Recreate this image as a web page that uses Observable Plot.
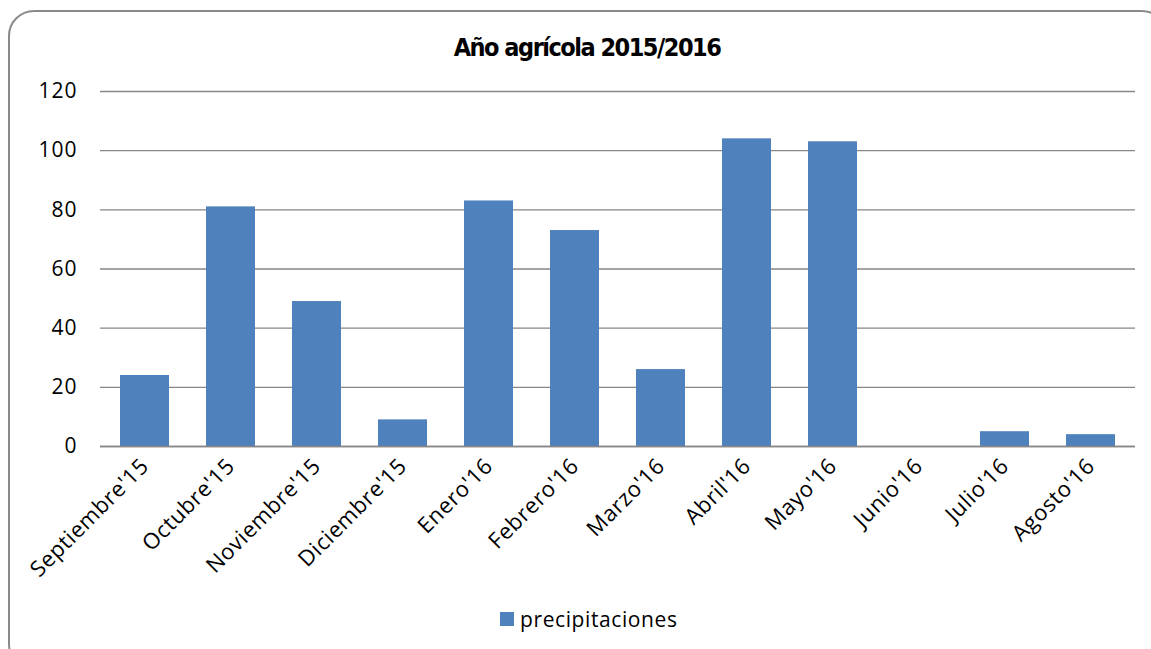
<!DOCTYPE html>
<html>
<head>
<meta charset="utf-8">
<script src="https://cdn.jsdelivr.net/npm/d3@7"></script>
<script src="https://cdn.jsdelivr.net/npm/@observablehq/plot@0.6"></script>
<style>
  html, body { margin: 0; padding: 0; background: #fff; }
  #wrap { position: relative; width: 1151px; height: 649px; overflow: hidden; background: #fff; }
  #frame { position: absolute; left: 8px; top: 10px; width: 1160px; height: 660px; border: 2px solid #8a8a8a; border-radius: 26px; box-sizing: border-box; }
  #title { position: absolute; left: 0; width: 1174px; top: 33px; line-height: 29px; text-align: center; font-family: "DejaVu Sans Condensed", sans-serif; font-weight: bold; font-size: 25px; letter-spacing: -1.5px; color: #000; }
  #legend { position: absolute; left: 500px; top: 605px; font-family: "Open Sans", sans-serif; font-size: 21px; letter-spacing: 0.6px; color: #000; display: flex; align-items: center; }
  #legend .sw { width: 14px; height: 14px; background: #4F81BD; margin-right: 6px; }
  #chart { position: absolute; left: 0; top: 0; }
  #chart svg g[aria-label="x-axis tick label"] text { letter-spacing: 0.6px; }
  #chart svg g[aria-label="y-axis tick label"] text { letter-spacing: 1px; }
</style>
</head>
<body>
<div id="wrap">
  <div id="frame"></div>
  <div id="chart"></div>
  <div id="title">Año agrícola 2015/2016</div>
  <div id="legend"><div class="sw"></div><span>precipitaciones</span></div>
</div>
<script>
const months = ["Septiembre'15","Octubre'15","Noviembre'15","Diciembre'15","Enero'16","Febrero'16","Marzo'16","Abril'16","Mayo'16","Junio'16","Julio'16","Agosto'16"];
const precipitaciones = [24, 81, 49, 9, 83, 73, 26, 104, 103, 0, 5, 4];
const yTicks = [0, 20, 40, 60, 80, 100, 120];

const data = months.map((m, i) => ({month: m, value: precipitaciones[i]}));

const chart = Plot.plot({
  width: 1151,
  height: 649,
  marginTop: 91,
  marginBottom: 203,
  marginLeft: 100,
  marginRight: 16,
  style: {fontFamily: "'Open Sans', sans-serif", fontSize: "21px", color: "#000", background: "transparent"},
  x: {domain: months, paddingInner: 0.43, paddingOuter: 0.215, label: null},
  y: {domain: [0, 120], label: null},
  marks: [
    Plot.gridY(yTicks, {stroke: "#868686", strokeOpacity: 1, strokeWidth: 1.3}),
    Plot.barY(data, {x: "month", y: "value", fill: "#4F81BD"}),
    Plot.ruleY([0], {stroke: "#868686", strokeWidth: 1.5}),
    Plot.axisY(yTicks, {tickSize: 0, tickPadding: 23, fontSize: 21, label: null}),
    Plot.axisX({tickSize: 0, tickPadding: 16, tickRotate: -45, fontSize: 22, label: null})
  ]
});
document.getElementById("chart").appendChild(chart);
</script>
</body>
</html>
